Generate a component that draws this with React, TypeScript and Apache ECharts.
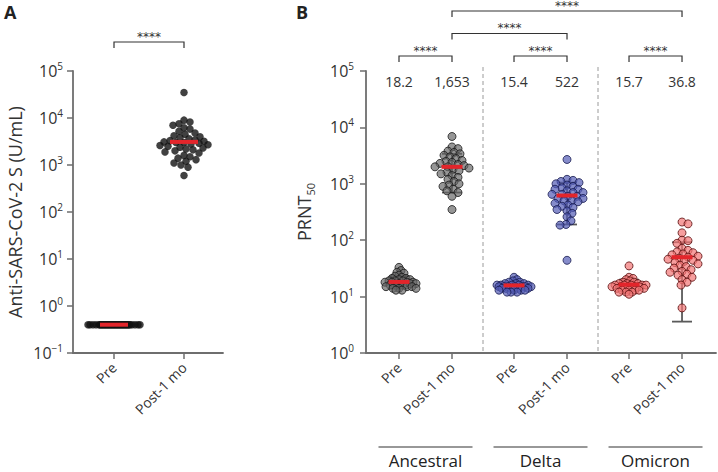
import React, { useEffect, useRef } from 'react';
import * as echarts from 'echarts';

// ---------------- Panel A data ----------------
const aCategories = ['Pre', 'Post-1 mo'];
const aPre = [
  0.4, 0.4, 0.4, 0.4, 0.4, 0.4, 0.4, 0.4, 0.4, 0.4,
  0.4, 0.4, 0.4, 0.4, 0.4, 0.4, 0.4, 0.4, 0.4, 0.4,
  0.4, 0.4, 0.4, 0.4, 0.4, 0.4, 0.4, 0.4, 0.4, 0.4,
  0.4, 0.4, 0.4, 0.4, 0.4, 0.4, 0.4, 0.4, 0.4, 0.4,
];
const aPost = [
  35000, 9000, 8200, 7500, 7000, 6200, 5800, 5200, 4800, 4500,
  4200, 4000, 3800, 3600, 3400, 3300, 3200, 3100, 3000, 3000,
  2900, 2800, 2700, 2600, 2500, 2400, 2300, 2200, 2100, 2000,
  1900, 1800, 1600, 1500, 1400, 1300, 1200, 1100, 1000, 900, 600,
];
const aCenters = [0.4, 3100];
const aYRange = [0.1, 100000];
const aYName = 'Anti-SARS-CoV-2 S (U/mL)';

// ---------------- Panel B data ----------------
const bGroups = ['Ancestral', 'Delta', 'Omicron'];
const bTimepoints = ['Pre', 'Post-1 mo'];
const ancestralPre = [33, 29, 27, 26, 24, 23, 22, 21, 21, 20, 20, 19, 19, 19, 18, 18, 18, 18, 17, 17, 17, 16, 16, 16, 15, 15, 15, 14, 14, 14, 13, 13];
const ancestralPost = [6900, 4500, 4200, 3800, 3600, 3400, 3200, 3000, 2800, 2600, 2500, 2400, 2300, 2200, 2100, 2000, 2000, 1900, 1800, 1700, 1600, 1500, 1400, 1300, 1200, 1100, 1000, 950, 900, 800, 750, 700, 600, 350];
const deltaPre = [22, 20, 19, 18, 18, 17, 17, 17, 16, 16, 16, 16, 16, 15, 15, 15, 15, 15, 15, 15, 14, 14, 14, 14, 14, 13, 13, 13, 13, 12, 12, 12];
const deltaPost = [2700, 1200, 1150, 1100, 1050, 1000, 950, 900, 850, 800, 800, 750, 700, 700, 650, 650, 600, 600, 550, 550, 500, 500, 480, 450, 420, 400, 380, 350, 330, 300, 260, 220, 190, 185, 44];
const omicronPre = [35, 22, 21, 20, 19, 18, 18, 17, 17, 17, 16, 16, 16, 16, 16, 15, 15, 15, 15, 15, 14, 14, 14, 14, 13, 13, 13, 13, 12, 12, 12, 11];
const omicronPost = [210, 195, 135, 100, 98, 88, 72, 66, 62, 60, 57, 55, 52, 50, 48, 46, 44, 42, 40, 38, 36, 34, 32, 30, 28, 27, 25, 24, 22, 20, 18, 16, 6.3];
const bValues = [
  [ancestralPre, ancestralPost],
  [deltaPre, deltaPost],
  [omicronPre, omicronPost],
];
const bCenters = [[18.2, 2000], [15.8, 620], [16.3, 50]];
const bErrors = [
  [[14, 23], [700, 3400]],
  [[13.5, 18], [190, 1050]],
  [[12.5, 20], [3.6, 92]],
];
const bValueLabels = [['18.2', '1,653'], ['15.4', '522'], ['15.7', '36.8']];
// [group, timepoint] pairs compared, and bracket level
const bBracketPairs = [
  [[0, 0], [0, 1]],
  [[1, 0], [1, 1]],
  [[2, 0], [2, 1]],
  [[0, 1], [1, 1]],
  [[0, 1], [2, 1]],
];
const bBracketLevels = [0, 0, 0, 1, 2];
const bYRange = [1, 100000];
const bColors = [
  { fill: 'rgba(100,100,100,0.85)', border: '#1a1a1a' },
  { fill: 'rgba(84,92,182,0.88)', border: '#181b50' },
  { fill: 'rgba(242,118,118,0.88)', border: '#5a0f0f' },
];

// ---------------- Layout ----------------
const FONT = '"Open Sans", "DejaVu Sans", sans-serif';
const AXIS_COLOR = '#6e6e6e';
const TEXT_COLOR = '#333333';
const GRID_TOP = 71;
const GRID_H = 282;
const A_LEFT = 73, A_W = 150, A_UNIT = 70, A_X0 = 41;
const B_LEFT = 366, B_W = 350, B_UNIT = 53, B_X0 = 33;
const GROUP_STEP = 2.17;
const aXMin = -A_X0 / A_UNIT, aXMax = (A_W - A_X0) / A_UNIT;
const bXMin = -B_X0 / B_UNIT, bXMax = (B_W - B_X0) / B_UNIT;
const aPxPerDecade = GRID_H / 6;
const bPxPerDecade = GRID_H / 5;
const bPos = (g: number, t: number) => g * GROUP_STEP + t;

function swarm(values: number[], pxPerDecade: number, minDist: number, maxHalf: number): number[] {
  const order = values.map((_, i) => i).sort((a, b) => values[b] - values[a]);
  const placed: { x: number; y: number }[] = [];
  const out: number[] = values.map(() => 0);
  const cands: number[] = [0];
  for (let d = 1; d <= maxHalf; d += 1) cands.push(d, -d);
  for (const i of order) {
    const y = Math.log10(values[i]) * pxPerDecade;
    let chosen: number | null = null;
    let best = 0;
    let bestScore = -1;
    for (const c of cands) {
      let md = Infinity;
      for (const p of placed) {
        const d = Math.hypot(p.x - c, p.y - y);
        if (d < md) md = d;
      }
      if (md >= minDist) { chosen = c; break; }
      if (md > bestScore) { bestScore = md; best = c; }
    }
    const x = chosen === null ? best : chosen;
    placed.push({ x, y });
    out[i] = x;
  }
  return out;
}

function pointsFor(values: number[], pos: number, pxPerDecade: number, unit: number, minDist: number, maxHalf: number) {
  const off = swarm(values, pxPerDecade, minDist, maxHalf);
  return values.map((v, i) => [pos + off[i] / unit, v]);
}

function supLabel(v: number) {
  const e = Math.round(Math.log10(v));
  return `{b|10}{s|${e < 0 ? '\u2212' + -e : e}}`;
}

const yRich = {
  b: { fontSize: 16, lineHeight: 20, color: TEXT_COLOR, fontFamily: FONT },
  s: { fontSize: 10, lineHeight: 10, verticalAlign: 'top', color: TEXT_COLOR, fontFamily: FONT },
};

function xAxis(gridIndex: number, min: number, max: number, ticks: number[], labels: string[]) {
  return {
    type: 'value', gridIndex, min, max,
    axisLine: { show: true, onZero: false, lineStyle: { color: AXIS_COLOR, width: 1.8 } },
    axisTick: { show: true, customValues: ticks, length: 6, lineStyle: { color: AXIS_COLOR, width: 1.5 } },
    axisLabel: {
      customValues: ticks, rotate: 45, margin: 12, fontSize: 14, color: TEXT_COLOR, fontFamily: FONT,
      formatter: (v: number) => {
        const k = ticks.findIndex((t) => Math.abs(t - v) < 1e-6);
        return k >= 0 ? labels[k] : '';
      },
    },
    splitLine: { show: false },
  };
}

function yAxis(gridIndex: number, range: number[], name: string, nameGap: number, margin: number, nameTextStyle: any) {
  return {
    type: 'log', logBase: 10, gridIndex, min: range[0], max: range[1],
    name, nameLocation: 'middle', nameGap, nameTextStyle,
    axisLine: { show: true, onZero: false, lineStyle: { color: AXIS_COLOR, width: 1.8 } },
    axisTick: { show: true, length: 6, lineStyle: { color: AXIS_COLOR, width: 1.5 } },
    minorTick: { show: false },
    axisLabel: { margin, formatter: supLabel, rich: yRich },
    splitLine: { show: false },
  };
}

function meanLines(ai: number, data: number[][], halfW: number) {
  return {
    type: 'custom', xAxisIndex: ai, yAxisIndex: ai, z: 6, silent: true, data,
    itemStyle: { color: '#e3252b' },
    renderItem: (_p: any, api: any) => {
      const p = api.coord([api.value(0), api.value(1)]);
      return { type: 'line', shape: { x1: p[0] - halfW, y1: p[1], x2: p[0] + halfW, y2: p[1] }, style: { stroke: '#e3252b', lineWidth: 4, fill: 'none' } };
    },
  };
}

function brackets(ai: number, data: number[][], offsets: number[]) {
  return {
    type: 'custom', xAxisIndex: ai, yAxisIndex: ai, z: 6, silent: true, clip: false,
    itemStyle: { color: '#333333' },
    encode: { x: [0, 1], y: 2 }, data,
    renderItem: (p: any, api: any) => {
      const a = api.coord([api.value(0), api.value(2)]);
      const b = api.coord([api.value(1), api.value(2)]);
      const y = a[1] - offsets[p.dataIndex];
      return {
        type: 'group', children: [
          { type: 'polyline', shape: { points: [[a[0], y + 6], [a[0], y], [b[0], y], [b[0], y + 6]] }, style: { stroke: '#333333', lineWidth: 1.2, fill: 'none' } },
          { type: 'text', style: { text: '****', x: (a[0] + b[0]) / 2, y: y - 5.5, align: 'center', verticalAlign: 'middle', fontSize: 12, fill: '#333333', fontFamily: '"DejaVu Sans", sans-serif' } },
        ],
      };
    },
  };
}

const aPoints = [
  ...pointsFor(aPre, 0, aPxPerDecade, A_UNIT, 6, 26),
  ...pointsFor(aPost, 1, aPxPerDecade, A_UNIT, 6, 24),
];

const bTicks: number[] = [];
const bTickLabels: string[] = [];
bGroups.forEach((_, g) => bTimepoints.forEach((t, k) => { bTicks.push(bPos(g, k)); bTickLabels.push(t); }));

const bScatter = bGroups.map((name, g) => ({
  type: 'scatter', name, xAxisIndex: 1, yAxisIndex: 1, z: 4, symbolSize: 8, silent: true,
  itemStyle: { color: bColors[g].fill, borderColor: bColors[g].border, borderWidth: 1 },
  data: [
    ...pointsFor(bValues[g][0], bPos(g, 0), bPxPerDecade, B_UNIT, 3.5, 17),
    ...pointsFor(bValues[g][1], bPos(g, 1), bPxPerDecade, B_UNIT, 5.5, 17),
  ],
}));

const bMeanData: number[][] = [];
const bErrData: number[][] = [];
const bLabelData: number[][] = [];
const bLabelText: string[] = [];
bGroups.forEach((_, g) => [0, 1].forEach((k) => {
  bMeanData.push([bPos(g, k), bCenters[g][k]]);
  bErrData.push([bPos(g, k), bErrors[g][k][0], bErrors[g][k][1]]);
  bLabelData.push([bPos(g, k), bYRange[1]]);
  bLabelText.push(bValueLabels[g][k]);
}));
const bSeparators = bGroups.slice(1).map((_, i) => [(bPos(i, 1) + bPos(i + 1, 0)) / 2, bYRange[1], bYRange[0]]);
const bGroupData = bGroups.map((_, g) => [(bPos(g, 0) + bPos(g, 1)) / 2, bYRange[0]]);

const option: any = {
  animation: false,
  textStyle: { fontFamily: FONT },
  grid: [
    { left: A_LEFT, top: GRID_TOP, width: A_W, height: GRID_H },
    { left: B_LEFT, top: GRID_TOP, width: B_W, height: GRID_H },
  ],
  xAxis: [
    xAxis(0, aXMin, aXMax, [0, 1], aCategories),
    xAxis(1, bXMin, bXMax, bTicks, bTickLabels),
  ],
  yAxis: [
    yAxis(0, aYRange, aYName, 49, 10, { fontSize: 18, color: TEXT_COLOR, fontFamily: FONT }),
    yAxis(1, bYRange, '{a|PRNT}{s|50}', 50, 12, {
      rich: {
        a: { fontSize: 18, lineHeight: 24, color: TEXT_COLOR, fontFamily: FONT },
        s: { fontSize: 11, lineHeight: 11, verticalAlign: 'bottom', color: TEXT_COLOR, fontFamily: FONT },
      },
    }),
  ],
  graphic: [
    { type: 'text', left: 4, top: 3, style: { text: 'A', fontSize: 18, fontWeight: 'bold', fill: '#222', fontFamily: FONT } },
    { type: 'text', left: 296, top: 3, style: { text: 'B', fontSize: 18, fontWeight: 'bold', fill: '#222', fontFamily: FONT } },
  ],
  series: [
    {
      type: 'scatter', xAxisIndex: 0, yAxisIndex: 0, z: 4, symbolSize: 7.5, silent: true,
      itemStyle: { color: '#111111' }, data: aPoints,
    },
    meanLines(0, aCenters.map((c, i) => [i, c]), 14),
    brackets(0, [[0, 1, aYRange[1]]], [29]),

    {
      type: 'custom', xAxisIndex: 1, yAxisIndex: 1, z: 1, silent: true, clip: false,
      itemStyle: { color: '#9a9a9a' },
      encode: { x: 0, y: [1, 2] }, data: bSeparators,
      renderItem: (_p: any, api: any) => {
        const t = api.coord([api.value(0), api.value(1)]);
        const b = api.coord([api.value(0), api.value(2)]);
        return { type: 'line', shape: { x1: t[0], y1: t[1] - 4, x2: b[0], y2: b[1] }, style: { stroke: '#9a9a9a', lineWidth: 1, lineDash: [4, 3], fill: 'none' } };
      },
    },
    {
      type: 'custom', xAxisIndex: 1, yAxisIndex: 1, z: 2, silent: true,
      itemStyle: { color: '#5a5a5a' },
      encode: { x: 0, y: [1, 2] }, data: bErrData,
      renderItem: (_p: any, api: any) => {
        const lo = api.coord([api.value(0), api.value(1)]);
        const hi = api.coord([api.value(0), api.value(2)]);
        const x = lo[0];
        const st = { stroke: '#5a5a5a', lineWidth: 1.8, fill: 'none' };
        return {
          type: 'group', children: [
            { type: 'line', shape: { x1: x, y1: lo[1], x2: x, y2: hi[1] }, style: st },
            { type: 'line', shape: { x1: x - 10, y1: lo[1], x2: x + 10, y2: lo[1] }, style: st },
            { type: 'line', shape: { x1: x - 10, y1: hi[1], x2: x + 10, y2: hi[1] }, style: st },
          ],
        };
      },
    },
    ...bScatter,
    meanLines(1, bMeanData, 10.5),
    {
      type: 'custom', xAxisIndex: 1, yAxisIndex: 1, z: 6, silent: true, clip: false, data: bLabelData,
      itemStyle: { color: TEXT_COLOR },
      renderItem: (p: any, api: any) => {
        const c = api.coord([api.value(0), api.value(1)]);
        return { type: 'text', style: { text: bLabelText[p.dataIndex], x: c[0], y: c[1] + 10, align: 'center', verticalAlign: 'middle', fontSize: 14, fill: TEXT_COLOR, fontFamily: FONT } };
      },
    },
    brackets(1, bBracketPairs.map(([a, b]) => [bPos(a[0], a[1]), bPos(b[0], b[1]), bYRange[1]]), bBracketLevels.map((l) => 15 + l * 22.5)),
    {
      type: 'custom', xAxisIndex: 1, yAxisIndex: 1, z: 6, silent: true, clip: false, data: bGroupData,
      itemStyle: { color: '#222222' },
      renderItem: (p: any, api: any) => {
        const c = api.coord([api.value(0), api.value(1)]);
        return {
          type: 'group', children: [
            { type: 'line', shape: { x1: c[0] - 47, y1: c[1] + 94, x2: c[0] + 47, y2: c[1] + 94 }, style: { stroke: '#333333', lineWidth: 1.2, fill: 'none' } },
            { type: 'text', style: { text: bGroups[p.dataIndex], x: c[0], y: c[1] + 107, align: 'center', verticalAlign: 'middle', fontSize: 17, fill: '#222222', fontFamily: FONT } },
          ],
        };
      },
    },
  ],
};

export default function App() {
  const ref = useRef<HTMLDivElement>(null);
  useEffect(() => {
    const chart = echarts.init(ref.current as HTMLDivElement, undefined, { renderer: 'svg' });
    chart.setOption(option);
    return () => chart.dispose();
  }, []);
  return <div ref={ref} style={{ position: 'absolute', left: 0, top: 0, width: 718, height: 472 }} />;
}
